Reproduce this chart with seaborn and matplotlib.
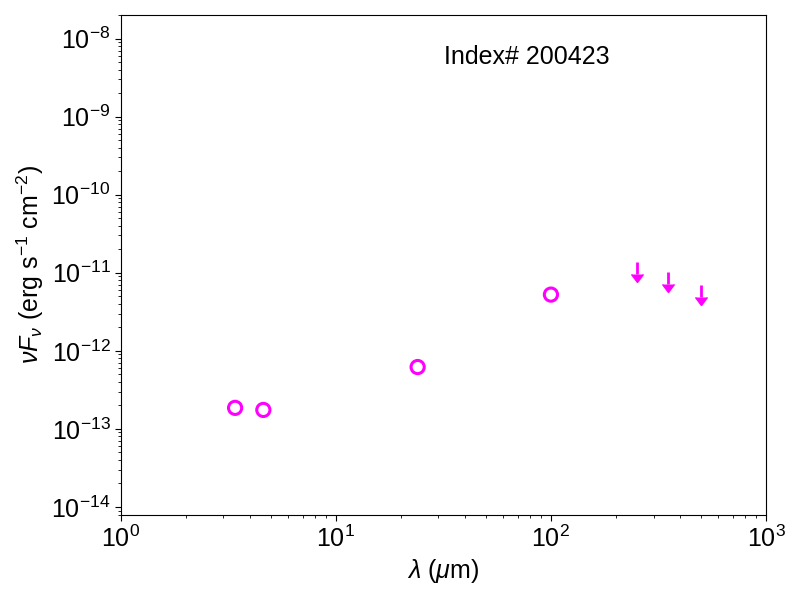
import numpy as np
import pandas as pd
import seaborn as sns
import matplotlib
matplotlib.use("Agg")
import matplotlib.pyplot as plt
from matplotlib.lines import CARETDOWNBASE

# detections (WISE / MIPS / PACS)
wave = [3.4, 4.6, 24.0, 100.0]
flux = [1.86e-13, 1.75e-13, 6.2e-13, 5.25e-12]

# upper limits (SPIRE)
ul_wave = [250.0, 350.0, 500.0]
ul_flux = [1.38e-11, 1.02e-11, 7.0e-12]
ul_frac = 0.3

label = "Index# 200423"

sns.set_style("ticks")
plt.rcParams["font.family"] = ["Liberation Sans", "DejaVu Sans"]
plt.rcParams["mathtext.fontset"] = "custom"
plt.rcParams["mathtext.rm"] = "Liberation Sans"
plt.rcParams["mathtext.it"] = "Liberation Sans:italic"
plt.rcParams["mathtext.bf"] = "Liberation Sans:bold"
for k in ["axes.edgecolor", "text.color", "axes.labelcolor",
          "xtick.color", "ytick.color"]:
    plt.rcParams[k] = "black"
plt.rcParams["axes.linewidth"] = 0.8

df = pd.DataFrame({"wave": wave, "flux": flux})

fig = plt.figure(figsize=(8, 6), dpi=100)
ax = fig.add_axes([0.151, 0.1417, 0.8065, 0.8333])

sns.scatterplot(data=df, x="wave", y="flux", ax=ax, marker="o", s=90,
                facecolors="none", edgecolor="magenta", linewidth=2.2)

# upper limits: short bar down from the limit, caret at the bottom
ul_flux = np.array(ul_flux)
ul_low = ul_flux * (1 - ul_frac)
ax.vlines(ul_wave, ul_low, ul_flux, color="magenta", linewidth=2)
ax.plot(ul_wave, ul_low, linestyle="none", marker=CARETDOWNBASE,
        markersize=8, color="magenta")

ax.set_xscale("log")
ax.set_yscale("log")
ax.set_xlim(1, 1000)
ax.set_ylim(7.9e-15, 2.0e-8)

ax.tick_params(axis="both", which="major", labelsize=18, length=4, width=0.8)
ax.tick_params(axis="both", which="minor", length=2, width=0.6)
ax.set_xlabel(r"$\lambda$ ($\mu$m)", fontsize=18)
ax.set_ylabel(r"$\nu F_\nu$ (erg s$^{-1}$ cm$^{-2}$)", fontsize=18)

ax.text(0.63, 0.915, label, transform=ax.transAxes, fontsize=18,
        ha="center", va="center")

fig.savefig("out.png", dpi=100)
